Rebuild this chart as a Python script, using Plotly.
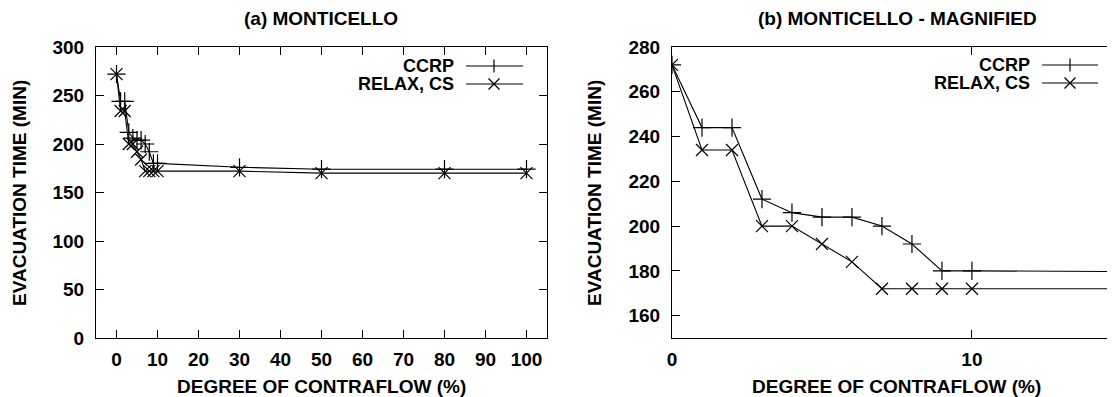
import plotly.graph_objects as go

W, H = 1115, 397
OFF = 8  # page body margin: screen pixel = figure pixel + OFF

# ---- data ----
contraflow_pct = [0, 1, 2, 3, 4, 5, 6, 7, 8, 9, 10, 30, 50, 80, 100]
ccrp_time = [272, 244, 244, 212, 206, 204, 204, 200, 192, 180, 180, 176, 174, 174, 174]
relax_cs_time = [272, 234, 234, 200, 200, 192, 184, 172, 172, 172, 172, 172, 170, 170, 170]
series_names = ["CCRP", "RELAX, CS"]
panel_titles = ["(a) MONTICELLO", "(b) MONTICELLO - MAGNIFIED"]
x_title = "DEGREE OF CONTRAFLOW (%)"
y_title = "EVACUATION TIME (MIN)"

FONT = "Liberation Sans, Arial, Helvetica, sans-serif"
FS = 19
BLACK = "#000000"


def px(x):
    return (x - OFF) / W


def py(y):
    return 1 - (y - OFF) / H


fig = go.Figure()

for xa, ya in (("x", "y"), ("x2", "y2")):
    fig.add_trace(go.Scatter(
        x=contraflow_pct, y=ccrp_time, name=series_names[0], xaxis=xa, yaxis=ya,
        mode="lines+markers", showlegend=False, cliponaxis=True,
        line=dict(color=BLACK, width=1.1),
        marker=dict(symbol="cross-thin", size=13, line=dict(color=BLACK, width=1.2)),
    ))
    fig.add_trace(go.Scatter(
        x=contraflow_pct, y=relax_cs_time, name=series_names[1], xaxis=xa, yaxis=ya,
        mode="lines+markers", showlegend=False, cliponaxis=True,
        line=dict(color=BLACK, width=1.1),
        marker=dict(symbol="x-thin", size=12, line=dict(color=BLACK, width=1.2)),
    ))

axis_common = dict(
    showgrid=False, zeroline=False, showline=True, linecolor=BLACK, linewidth=1,
    mirror="ticks", ticks="inside", ticklen=8, tickcolor=BLACK, tickwidth=1,
    tickfont=dict(family=FONT, size=FS, color=BLACK, weight="bold"),
    automargin=False,
)

ydom = [py(338), py(47)]
fig.update_layout(
    width=W, height=H,
    margin=dict(l=0, r=0, t=0, b=0),
    paper_bgcolor="white", plot_bgcolor="white",
    showlegend=False,
    xaxis=dict(domain=[px(96), px(547)], range=[-5, 105], tick0=0, dtick=10,
               anchor="y", ticklabelstandoff=4, **axis_common),
    yaxis=dict(domain=ydom, range=[0, 300], tick0=0, dtick=50,
               anchor="x", ticklabelstandoff=7, **axis_common),
    xaxis2=dict(domain=[px(672), px(1118)], range=[0, 14.87], tick0=0, dtick=10,
                anchor="y2", ticklabelstandoff=4, **axis_common),
    yaxis2=dict(domain=ydom, range=[150, 280], tick0=160, dtick=20,
                anchor="x2", ticklabelstandoff=7, **axis_common),
)

anns = []
shapes = []
txt = dict(family=FONT, size=FS, color=BLACK, weight="bold")
keytxt = dict(family=FONT, size=18, color=BLACK, weight="bold")

# panel titles
for cx, t in ((321, panel_titles[0]), (897, panel_titles[1])):
    anns.append(dict(x=px(cx), y=py(19), xref="paper", yref="paper", text=t,
                     showarrow=False, xanchor="center", yanchor="middle", font=txt))
# x titles
for cx in (321, 896):
    anns.append(dict(x=px(cx), y=py(386), xref="paper", yref="paper", text=x_title,
                     showarrow=False, xanchor="center", yanchor="middle", font=txt))
# y titles
for cx in (20, 595):
    anns.append(dict(x=px(cx), y=py(193), xref="paper", yref="paper", text=y_title,
                     textangle=-90, showarrow=False, xanchor="center", yanchor="middle", font=txt))

# gnuplot-style keys: text, then line sample with marker on its right
keys = [
    # text_right, line_x0, line_x1, marker_x, row_y (ccrp), row_y (relax)
    (455, 466, 523, 494, 66, 84),
    (1031, 1042, 1098, 1070, 65, 83),
]
for tr, lx0, lx1, mx, y1, y2 in keys:
    for name, yy, sym in ((series_names[0], y1, "+"), (series_names[1], y2, "x")):
        anns.append(dict(x=px(tr), y=py(yy), xref="paper", yref="paper", text=name,
                         showarrow=False, xanchor="right", yanchor="middle", font=keytxt,
                         borderpad=0))
        shapes.append(dict(type="line", xref="paper", yref="paper",
                           x0=px(lx0), x1=px(lx1), y0=py(yy), y1=py(yy),
                           line=dict(color=BLACK, width=1.1)))
        if sym == "+":
            shapes.append(dict(type="line", xref="paper", yref="paper",
                               x0=px(mx), x1=px(mx), y0=py(yy - 6.5), y1=py(yy + 6.5),
                               line=dict(color=BLACK, width=1.2)))
        else:
            d = 5.5
            shapes.append(dict(type="line", xref="paper", yref="paper",
                               x0=px(mx - d), x1=px(mx + d), y0=py(yy - d), y1=py(yy + d),
                               line=dict(color=BLACK, width=1.2)))
            shapes.append(dict(type="line", xref="paper", yref="paper",
                               x0=px(mx - d), x1=px(mx + d), y0=py(yy + d), y1=py(yy - d),
                               line=dict(color=BLACK, width=1.2)))

fig.update_layout(annotations=anns, shapes=shapes)

fig.write_html("out.html")
